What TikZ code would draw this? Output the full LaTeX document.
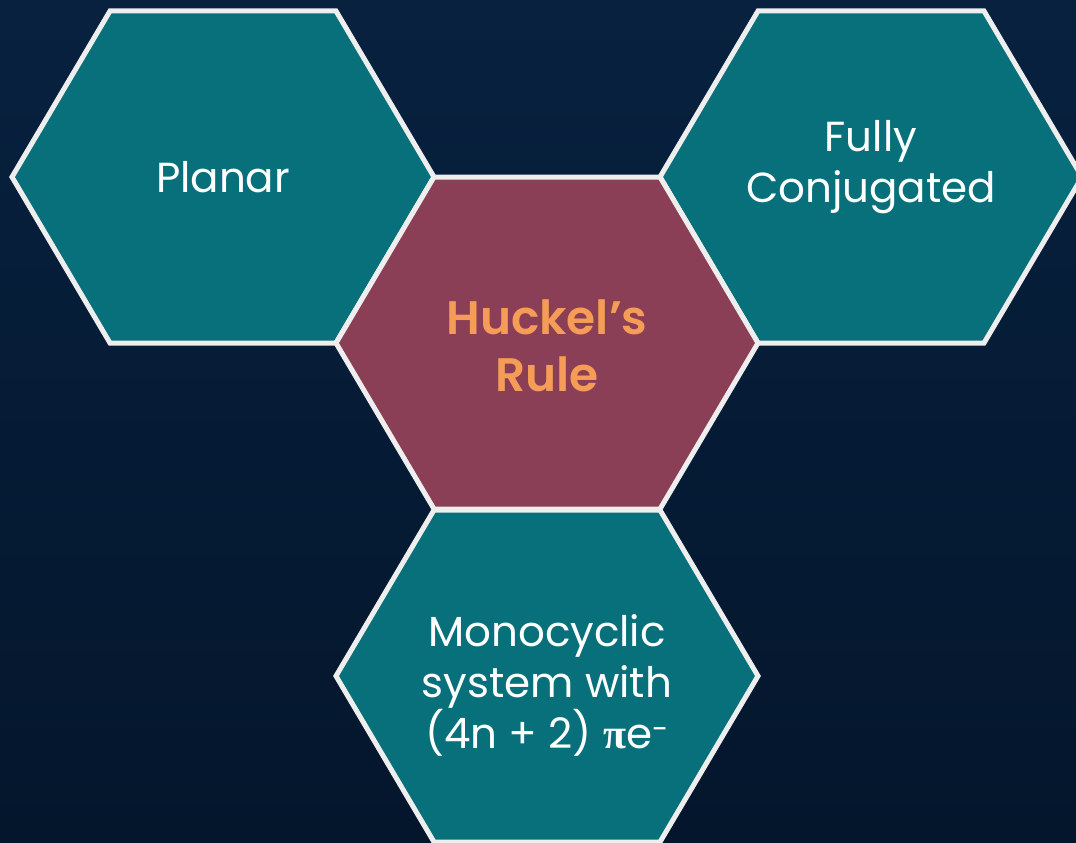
\documentclass[tikz,border=0pt]{standalone}
\usepackage{fontspec}
\setmainfont{Poppins}
\newfontfamily\semibold{Poppins SemiBold}
\newfontfamily\pifont{Liberation Serif}
\usepackage{xcolor}
\usepackage{tikz}
\usetikzlibrary{calc}
\definecolor{bgtop}{HTML}{07213F}
\definecolor{bgmid}{HTML}{0D305B}
\definecolor{bgbot}{HTML}{04162C}
\definecolor{teal}{HTML}{08707A}
\definecolor{plum}{HTML}{8B3F56}
\definecolor{edge}{HTML}{EEEEEE}
\definecolor{accent}{HTML}{F59D56}
\tikzset{
  tile/.style={line width=5pt, draw=edge},
  lab/.style={text=white, align=center, font=\fontsize{42}{51}\selectfont},
  hlab/.style={text=accent, align=center, font=\fontsize{47}{57}\selectfont\semibold},
}

\begin{document}
\begin{tikzpicture}[x=1pt,y=-1pt]
  \useasboundingbox (0,0) rectangle (1076,843);
  \clip (0,0) rectangle (1076,843);
  \fill[top color=bgtop, middle color=bgmid, bottom color=bgbot] (0,0) rectangle (1076,843);

  \coordinate (P) at (223,177);   % planar cell
  \coordinate (F) at (871,177);   % conjugated cell
  \coordinate (H) at (547,343);   % rule cell
  \coordinate (M) at (547,676);   % monocyclic cell

  \draw[tile, fill=teal] (P) ++(-211,0) -- ++(98,-166) -- ++(226,0) -- ++(98,166) -- ++(-98,166) -- ++(-226,0) -- cycle;
  \draw[tile, fill=teal] (F) ++(-211,0) -- ++(98,-166) -- ++(226,0) -- ++(98,166) -- ++(-98,166) -- ++(-226,0) -- cycle;
  \draw[tile, fill=teal] (M) ++(-211,0) -- ++(98,-166) -- ++(226,0) -- ++(98,166) -- ++(-98,166) -- ++(-226,0) -- cycle;
  \draw[tile, fill=plum] (H) ++(-211,0) -- ++(98,-166) -- ++(226,0) -- ++(98,166) -- ++(-98,166) -- ++(-226,0) -- cycle;

  \node[lab] (planar) at (P) {Planar};
  \node[lab] (conj) at ($(F)+(0,-10)$) {Fully\\Conjugated};
  \node[hlab] (rule) at ($(H)+(0,3)$) {Huckel’s\\Rule};
  \node[lab] (mono) at ($(M)+(0,9)$) {Monocyclic\\system with\\(4n + 2) {\pifont\bfseries π}e\textsuperscript{-}};
\end{tikzpicture}
\end{document}
